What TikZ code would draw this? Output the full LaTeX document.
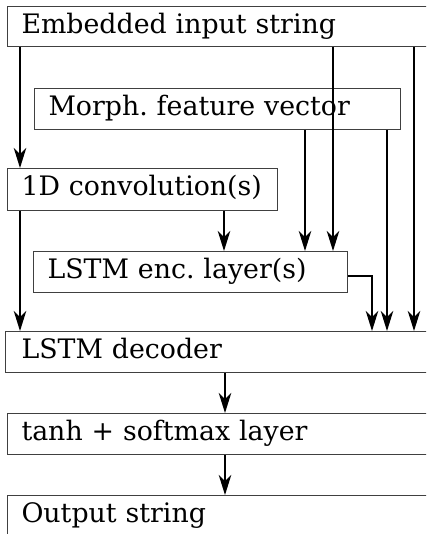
\documentclass[tikz,border=0pt]{standalone}
\usepackage{fontspec}
\setmainfont{DejaVu Serif}
\usetikzlibrary{arrows.meta}
\begin{document}
\begin{tikzpicture}[x=1pt,y=-1pt,
  blk/.style={draw=black!75, line width=1pt, rectangle, anchor=north west,
    inner xsep=14pt, inner ysep=0pt, align=left, text height=27pt,
    font=\fontsize{26.8}{31}\selectfont\frenchspacing},
  arr/.style={line width=1.3pt, -{Stealth[length=20pt,width=12.5pt,inset=6pt]}}]
\useasboundingbox (0,0) rectangle (426,534);
\clip (0,0) rectangle (426,534);

% layer boxes
\node[blk, text width=405pt, text depth=13pt] (emb)   at (7,6)   {Embedded input string};
\node[blk, text width=338pt, text depth=14pt] (morph) at (34,88) {Morph. feature vector};
\node[blk, text width=242pt, text depth=15pt] (conv)  at (7,168) {1D convolution(s)};
\node[blk, text width=286pt, text depth=14pt] (enc)   at (33,251) {LSTM enc. layer(s)};
\node[blk, inner xsep=16pt, text width=403pt, text depth=14pt] (dec) at (5,331) {LSTM decoder};
\node[blk, text width=405pt, text depth=14pt] (tanh)  at (7,413) {tanh + softmax layer};
\node[blk, text width=405pt, text depth=18pt] (out)   at (7,495) {Output string};

% vertical tracks of the connectors
\coordinate (xa) at (20,0);
\coordinate (xb) at (224,0);
\coordinate (xc) at (305,0);
\coordinate (xd) at (333,0);
\coordinate (xe) at (372,0);
\coordinate (xf) at (387,0);
\coordinate (xg) at (414,0);
\coordinate (xh) at (225,0);

% connectors
\draw[arr] (emb.south -| xa) -- (conv.north -| xa);
\draw[arr] (conv.south -| xa) -- (dec.north -| xa);
\draw[arr] (conv.south -| xb) -- (enc.north -| xb);
\draw[arr] (morph.south -| xc) -- (enc.north -| xc);
\draw[arr] (emb.south -| xd) -- (enc.north -| xd);
\draw[arr] ([yshift=-4pt]enc.east) -| (dec.north -| xe);
\draw[arr] (morph.south -| xf) -- (dec.north -| xf);
\draw[arr] (emb.south -| xg) -- (dec.north -| xg);
\draw[arr] (dec.south -| xh) -- (tanh.north -| xh);
\draw[arr] (tanh.south -| xh) -- (out.north -| xh);
\end{tikzpicture}
\end{document}
